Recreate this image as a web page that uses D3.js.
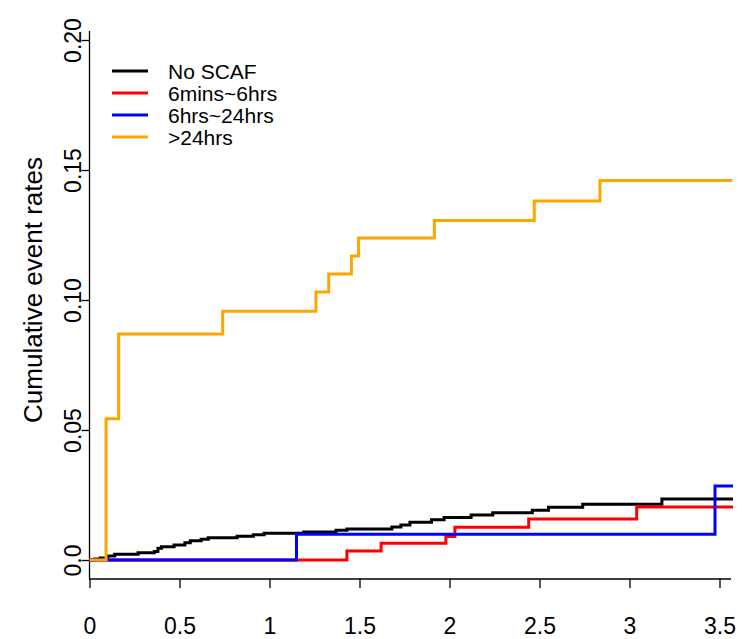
<!DOCTYPE html>
<html>
<head>
<meta charset="utf-8">
<script src="https://cdn.jsdelivr.net/npm/d3@7"></script>
<style>
  body { margin: 0; background: #fff; }
  svg text { font-family: "Liberation Sans", Arial, sans-serif; fill: #000; }
</style>
</head>
<body>
<svg id="chart" width="748" height="639"></svg>
<script>
// cumulative event rate step curves
const noScafTime = [0, 0.03, 0.06, 0.10, 0.14, 0.27, 0.36, 0.38, 0.40, 0.47, 0.53, 0.56, 0.62, 0.66, 0.82, 0.91, 0.97, 1.19, 1.37, 1.43, 1.68, 1.73, 1.78, 1.90, 1.97, 2.12, 2.24, 2.46, 2.55, 2.74, 3.18, 3.575];
const noScafRate = [0, 0.0004, 0.0008, 0.0015, 0.0022, 0.0028, 0.0033, 0.0045, 0.0051, 0.0058, 0.0066, 0.0074, 0.0080, 0.0086, 0.0091, 0.0097, 0.0103, 0.0108, 0.0114, 0.0119, 0.0127, 0.0135, 0.0145, 0.0155, 0.0163, 0.0173, 0.0182, 0.0191, 0.0203, 0.0214, 0.0235, 0.0235];

const shortTime = [0, 1.43, 1.62, 1.98, 2.03, 2.44, 3.04, 3.575];
const shortRate = [0, 0.0035, 0.0064, 0.0090, 0.0126, 0.0158, 0.0204, 0.0204];

const midTime = [0, 1.15, 3.475, 3.575];
const midRate = [0, 0.0099, 0.0285, 0.0285];

const longTime = [0, 0.092, 0.162, 0.74, 1.258, 1.329, 1.455, 1.495, 1.916, 2.471, 2.836, 3.571];
const longRate = [0, 0.0543, 0.0869, 0.0957, 0.1031, 0.1100, 0.1169, 0.1238, 0.1306, 0.1381, 0.1460, 0.1460];

const seriesNames = ['No SCAF', '6mins~6hrs', '6hrs~24hrs', '>24hrs'];
const seriesColors = ['#000000', '#ff0000', '#0000ff', '#ffa500'];

const xTicks = [0, 0.5, 1, 1.5, 2, 2.5, 3, 3.5];
const yTicks = [0, 0.05, 0.10, 0.15, 0.20];
const yTickLabels = ['0.0', '0.05', '0.10', '0.15', '0.20'];

const series = [
  { time: noScafTime, rate: noScafRate },
  { time: shortTime, rate: shortRate },
  { time: midTime, rate: midRate },
  { time: longTime, rate: longRate }
];

const svg = d3.select('#chart');

const x = d3.scaleLinear().domain([0, 3.5]).range([89.5, 719.5]);
const y = d3.scaleLinear().domain([0, 0.2]).range([560, 40]);

const plotBottom = 579;
const plotTop = 31;
const plotRight = 731;

// L-shaped frame
svg.append('path')
  .attr('d', `M${x(0)},${plotTop}V${plotBottom}H${plotRight}`)
  .attr('fill', 'none')
  .attr('stroke', '#000')
  .attr('stroke-width', 1.3);

// x axis
const xAxis = d3.axisBottom(x)
  .tickValues(xTicks)
  .tickFormat(d => String(d))
  .tickSize(9)
  .tickPadding(30);

const gx = svg.append('g')
  .attr('transform', `translate(0,${plotBottom})`)
  .call(xAxis);
gx.select('.domain').remove();
gx.selectAll('line').attr('stroke-width', 1.3);
gx.selectAll('text')
  .attr('font-size', 23)
  .attr('dy', '0.71em');

// y axis, labels turned like R's las=0
const yAxis = d3.axisLeft(y)
  .tickValues(yTicks)
  .tickFormat((d, i) => yTickLabels[i])
  .tickSize(8);

const gy = svg.append('g')
  .attr('transform', `translate(${x(0)},0)`)
  .call(yAxis);
gy.select('.domain').remove();
gy.selectAll('line').attr('stroke-width', 1.3);
gy.selectAll('text')
  .attr('font-size', 23)
  .attr('x', null)
  .attr('dy', null)
  .attr('text-anchor', 'middle')
  .attr('transform', 'translate(-9,0) rotate(-90)');

svg.append('text')
  .attr('transform', `translate(42,290) rotate(-90)`)
  .attr('text-anchor', 'middle')
  .attr('font-size', 26)
  .text('Cumulative event rates');

// step curves
const line = d3.line()
  .x(d => x(d[0]))
  .y(d => y(d[1]))
  .curve(d3.curveStepAfter);

series.forEach((s, i) => {
  const pts = s.time.map((t, j) => [t, s.rate[j]]);
  svg.append('path')
    .datum(pts)
    .attr('d', line)
    .attr('fill', 'none')
    .attr('stroke', seriesColors[i])
    .attr('stroke-width', 3);
});

// legend
const legend = svg.append('g')
  .attr('transform', 'translate(112,71)');

const item = legend.selectAll('g')
  .data(seriesNames)
  .enter()
  .append('g')
  .attr('transform', (d, i) => `translate(0,${i * 22})`);

item.append('line')
  .attr('x1', 0)
  .attr('x2', 36)
  .attr('stroke', (d, i) => seriesColors[i])
  .attr('stroke-width', 3);

item.append('text')
  .attr('x', 56)
  .attr('dy', '0.36em')
  .attr('font-size', 21)
  .text(d => d);
</script>
</body>
</html>
